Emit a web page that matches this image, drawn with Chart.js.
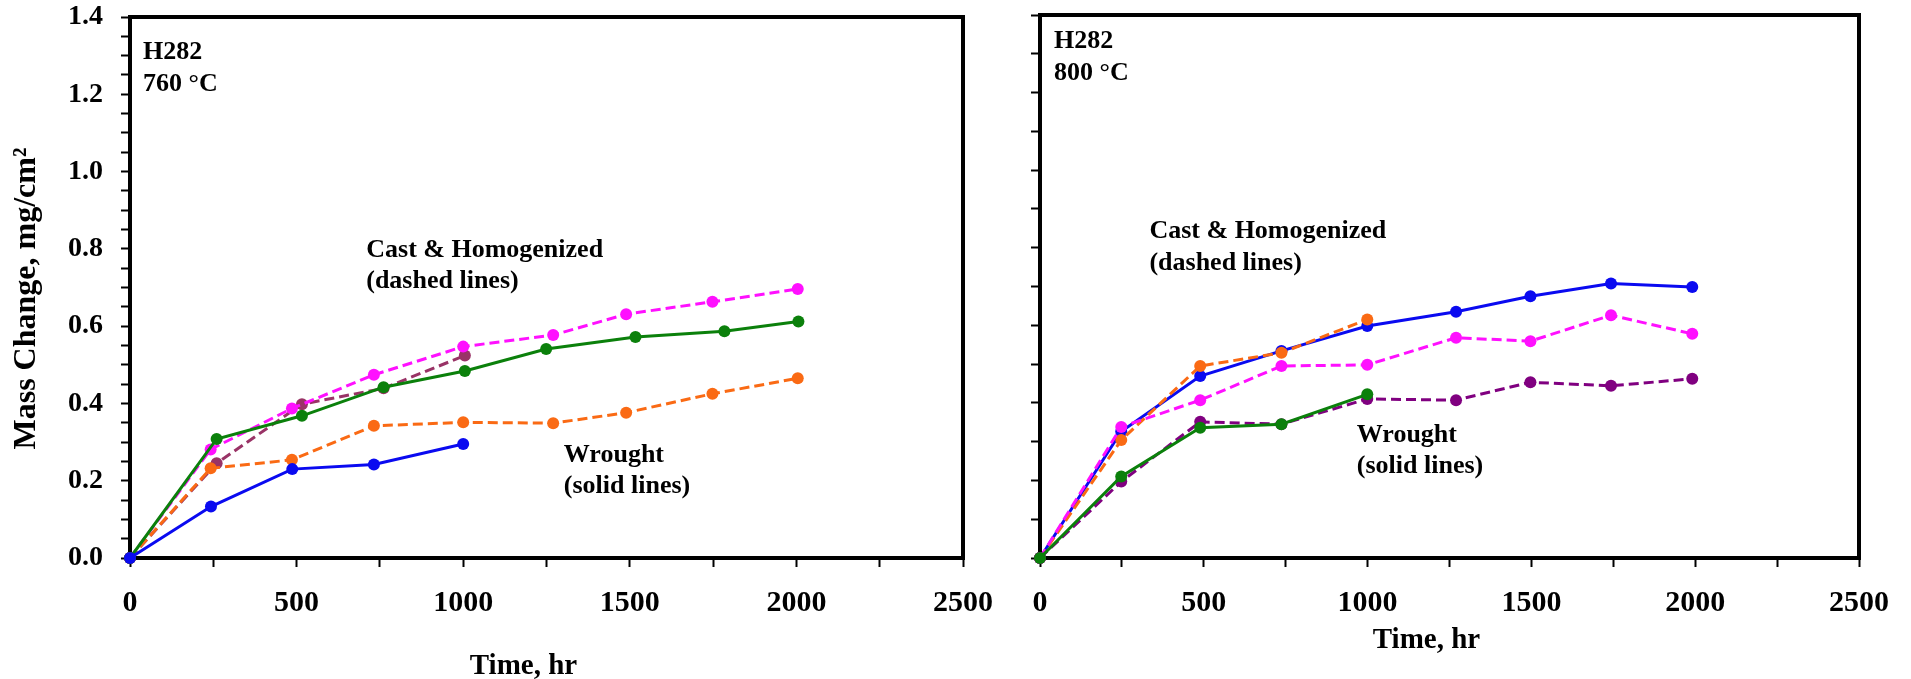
<!DOCTYPE html>
<html>
<head>
<meta charset="utf-8">
<script src="https://cdn.jsdelivr.net/npm/chart.js@4.4.1/dist/chart.umd.min.js"></script>
<style>
  html, body { margin: 0; padding: 0; background: #fff; }
  #wrap { position: relative; width: 1911px; height: 679px; }
  .panel { position: absolute; top: 0; height: 679px; }
  #left { left: 0; width: 1000px; }
  #right { left: 1000px; width: 911px; }
</style>
</head>
<body>
<div id="wrap">
  <div class="panel" id="left"><canvas id="chart760"></canvas></div>
  <div class="panel" id="right"><canvas id="chart800"></canvas></div>
</div>
<script>
// H282, 760 C: exposure time (hr) and mass change (mg/cm2)
const t760Blue = [0, 243, 487, 732, 1000];
const m760Blue = [0, 0.133, 0.230, 0.242, 0.295];
const t760Green = [0, 260, 516, 761, 1005, 1249, 1517, 1784, 2006];
const m760Green = [0, 0.308, 0.368, 0.442, 0.484, 0.541, 0.572, 0.587, 0.612];
const t760Magenta = [0, 242, 486, 732, 1000, 1270, 1489, 1748, 2004];
const m760Magenta = [0, 0.281, 0.387, 0.474, 0.547, 0.577, 0.631, 0.663, 0.696];
const t760Orange = [0, 242, 486, 732, 1000, 1270, 1489, 1748, 2004];
const m760Orange = [0, 0.232, 0.254, 0.342, 0.351, 0.349, 0.376, 0.425, 0.465];
const t760Plum = [0, 260, 516, 761, 1005];
const m760Plum = [0, 0.245, 0.398, 0.439, 0.524];

// H282, 800 C
const t800Blue = [0, 248, 489, 737, 999, 1270, 1497, 1743, 1991];
const m800Blue = [0, 0.326, 0.469, 0.534, 0.598, 0.635, 0.675, 0.708, 0.699];
const t800Green = [0, 248, 489, 737, 999];
const m800Green = [0, 0.210, 0.336, 0.345, 0.422];
const t800Orange = [0, 248, 489, 737, 999];
const m800Orange = [0, 0.304, 0.495, 0.529, 0.615];
const t800Magenta = [0, 248, 489, 737, 999, 1270, 1497, 1743, 1991];
const m800Magenta = [0, 0.338, 0.407, 0.495, 0.498, 0.568, 0.559, 0.626, 0.578];
const t800Purple = [0, 248, 489, 737, 999, 1270, 1497, 1743, 1991];
const m800Purple = [0, 0.197, 0.351, 0.345, 0.410, 0.407, 0.453, 0.444, 0.462];

// axis ticks
const timeMajor = [0, 500, 1000, 1500, 2000, 2500];
const timeMinor = [250, 750, 1250, 1750, 2250];
const massMajor = [0, 0.2, 0.4, 0.6, 0.8, 1.0, 1.2, 1.4];
const massMinor760 = [0.05, 0.1, 0.15, 0.25, 0.3, 0.35, 0.45, 0.5, 0.55, 0.65, 0.7, 0.75,
  0.85, 0.9, 0.95, 1.05, 1.1, 1.15, 1.25, 1.3, 1.35];
const massMinor800 = [0.1, 0.3, 0.5, 0.7, 0.9, 1.1, 1.3];

// text placed in data units: [text, time, mass]
const notes760 = [
  ['H282', 39, 1.291], ['760 °C', 39, 1.209],
  ['Cast & Homogenized', 709, 0.779], ['(dashed lines)', 709, 0.699],
  ['Wrought', 1302, 0.248], ['(solid lines)', 1302, 0.168]
];
const notes800 = [
  ['H282', 43, 1.315], ['800 °C', 43, 1.232],
  ['Cast & Homogenized', 334, 0.825], ['(dashed lines)', 334, 0.742],
  ['Wrought', 967, 0.299], ['(solid lines)', 967, 0.219]
];

const FONT = '"Liberation Serif", "Times New Roman", serif';

function series(t, m, color, dashed) {
  return {
    data: t.map((v, i) => ({ x: v, y: m[i] })),
    borderColor: color,
    backgroundColor: color,
    borderWidth: 3,
    borderDash: dashed ? [10, 5] : [],
    pointRadius: 6,
    pointBorderWidth: 0,
    pointHoverRadius: 6,
    showLine: true,
    tension: 0,
    clip: false
  };
}

const near = (list, v) => list.some(k => Math.abs(k - v) < 1e-9);

// box around the plot, free text and axis titles
const panelText = {
  id: 'panelText',
  beforeDatasetsDraw(chart) {
    const a = chart.chartArea, ctx = chart.ctx;
    ctx.save();
    ctx.lineWidth = 4;
    ctx.strokeStyle = '#000';
    ctx.strokeRect(a.left, a.top, a.right - a.left, a.bottom - a.top);
    ctx.restore();
  },
  afterDraw(chart, args, opts) {
    const { ctx, chartArea: a } = chart;
    const x = chart.scales.x, y = chart.scales.y;
    ctx.save();
    ctx.fillStyle = '#000';
    ctx.textAlign = 'left';
    ctx.textBaseline = 'alphabetic';
    ctx.font = 'bold 26px ' + FONT;
    opts.notes.forEach(n => {
      ctx.fillText(n[0], x.getPixelForValue(n[1]), y.getPixelForValue(n[2]));
    });
    ctx.textAlign = 'center';
    ctx.font = 'bold 29px ' + FONT;
    ctx.fillText('Time, hr', (a.left + a.right) / 2 - 23, a.bottom + opts.xTitleDrop);
    if (opts.yTitle) {
      ctx.translate(27, (a.top + a.bottom) / 2 + 11);
      ctx.rotate(-Math.PI / 2);
      ctx.textBaseline = 'middle';
      ctx.font = 'bold 32px ' + FONT;
      ctx.fillText('Mass Change, mg/cm²', 0, 0);
    }
    ctx.restore();
  }
};

function makeChart(id, datasets, cfg) {
  const tickGrid = {
    display: true, drawOnChartArea: false, drawTicks: true,
    tickLength: 9, tickWidth: 2, tickColor: '#000'
  };
  return new Chart(document.getElementById(id), {
    type: 'scatter',
    data: { datasets: datasets },
    plugins: [panelText],
    options: {
      responsive: true,
      maintainAspectRatio: false,
      animation: false,
      layout: { padding: { top: cfg.top, right: cfg.right, left: 0, bottom: 0 } },
      plugins: {
        legend: { display: false },
        tooltip: { enabled: false },
        panelText: { notes: cfg.notes, xTitleDrop: cfg.xTitleDrop, yTitle: cfg.yTitle }
      },
      scales: {
        x: {
          type: 'linear', min: 0, max: 2500,
          afterBuildTicks: s => {
            s.ticks = timeMajor.concat(timeMinor).sort((p, q) => p - q).map(v => ({ value: v }));
          },
          // fixed axis band; the layout padding alone sets the plot edges
          afterFit: s => { s.height = 121; s.paddingLeft = 0; s.paddingRight = 0; },
          grid: tickGrid,
          border: { display: false },
          ticks: {
            autoSkip: false, maxRotation: 0, padding: 18, color: '#000',
            font: { family: FONT, size: 30, weight: 'bold' },
            callback: v => near(timeMajor, v) ? String(v) : ''
          }
        },
        y: {
          type: 'linear', min: 0, max: 1.4,
          afterBuildTicks: s => {
            s.ticks = massMajor.concat(cfg.minor).sort((p, q) => p - q).map(v => ({ value: v }));
          },
          afterFit: s => { s.width = cfg.yWidth; s.paddingTop = 0; s.paddingBottom = 0; },
          grid: tickGrid,
          border: { display: false },
          ticks: {
            display: cfg.yLabels, autoSkip: false, padding: 18, color: '#000',
            font: { family: FONT, size: 28, weight: 'bold' },
            callback: v => near(massMajor, v) ? v.toFixed(1) : ''
          }
        }
      }
    }
  });
}

makeChart('chart760', [
  series(t760Blue, m760Blue, '#0a0af0', false),
  series(t760Green, m760Green, '#0b800b', false),
  series(t760Orange, m760Orange, '#fa6a14', true),
  series(t760Magenta, m760Magenta, '#ff10ff', true),
  series(t760Plum, m760Plum, '#993366', true)
], { top: 17, right: 37, yWidth: 130, yLabels: true, minor: massMinor760,
     notes: notes760, xTitleDrop: 116, yTitle: true });

makeChart('chart800', [
  series(t800Green, m800Green, '#0b800b', false),
  series(t800Purple, m800Purple, '#800080', true),
  series(t800Magenta, m800Magenta, '#ff10ff', true),
  series(t800Orange, m800Orange, '#fa6a14', true),
  series(t800Blue, m800Blue, '#0a0af0', false)
], { top: 15, right: 52, yWidth: 40, yLabels: false, minor: massMinor800,
     notes: notes800, xTitleDrop: 90, yTitle: false });
</script>
</body>
</html>
